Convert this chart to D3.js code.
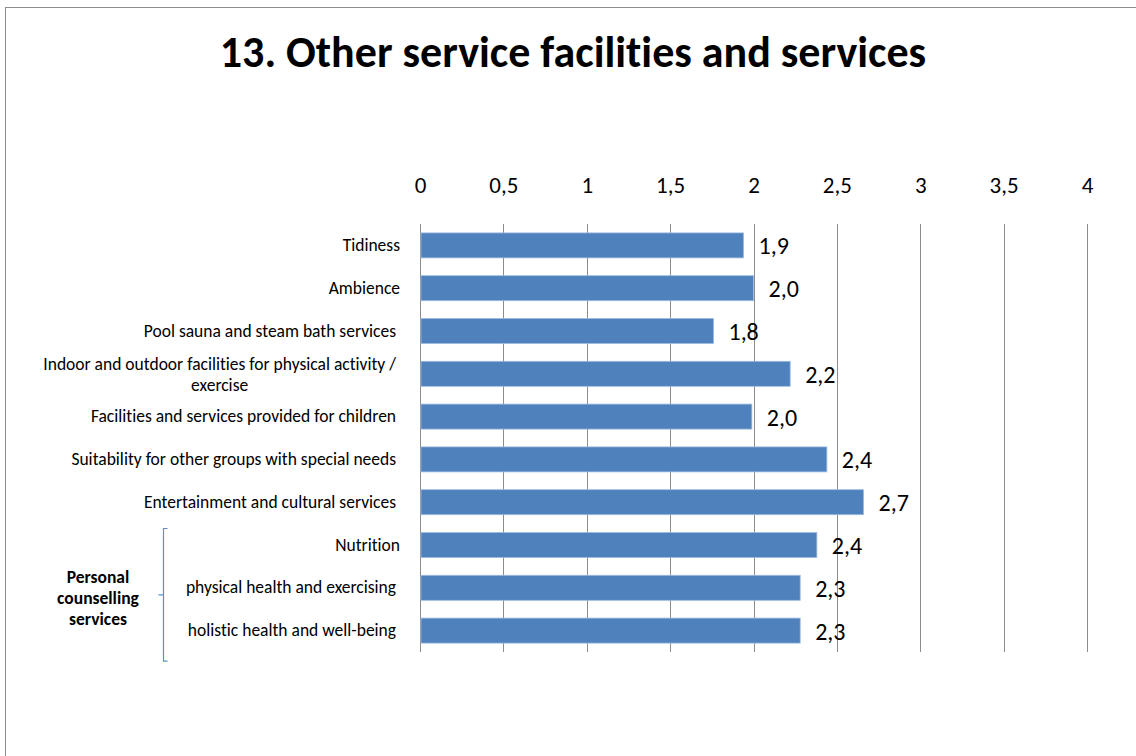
<!DOCTYPE html>
<html>
<head>
<meta charset="utf-8">
<script src="https://cdn.jsdelivr.net/npm/d3@7"></script>
<style>
  body { margin: 0; background: #fff; }
  text { font-family: Carlito, Calibri, Lato, sans-serif; white-space: pre; font-variant-ligatures: none; }
</style>
</head>
<body>
<svg id="chart" width="1136" height="756"></svg>
<script>
var titleText = '13. Other service facilities and services';
var categories = [
  'Tidiness',
  'Ambience',
  'Pool sauna and steam bath services ',
  'Indoor and outdoor facilities for physical activity /\nexercise',
  'Facilities and services provided for children ',
  'Suitability for other groups with special needs ',
  'Entertainment and cultural services ',
  'Nutrition',
  'physical health and exercising ',
  'holistic health and well-being '
];
var values = [1.94, 2.00, 1.76, 2.22, 1.99, 2.44, 2.66, 2.38, 2.28, 2.28];
var tickValues = [0, 0.5, 1, 1.5, 2, 2.5, 3, 3.5, 4];
var groupLabel = ['Personal', 'counselling', 'services'];
var groupMembers = ['Nutrition', 'physical health and exercising ', 'holistic health and well-being '];

var svg = d3.select('#chart');
var comma = d3.formatLocale({decimal: ',', thousands: ' ', grouping: [3], currency: ['', '']});
var fmtTick = comma.format('');
var fmtVal = comma.format('.1f');

// outer chart border
svg.append('rect')
  .attr('x', 5.5).attr('y', 7.5)
  .attr('width', 1200).attr('height', 800)
  .attr('fill', 'none').attr('stroke', '#8c8c8c').attr('stroke-width', 1);

svg.append('text')
  .attr('x', 573).attr('y', 67)
  .attr('text-anchor', 'middle')
  .style('font-size', '44px').style('font-weight', 'bold')
  .text(titleText);

var x = d3.scaleLinear().domain([0, 4]).range([420, 1087]);
var y = d3.scaleBand().domain(categories).range([224, 652])
  .paddingInner(0.416).paddingOuter(0.208);

// gridlines
svg.append('g').selectAll('line').data(tickValues).join('line')
  .attr('x1', d => Math.round(x(d)) + 0.5).attr('x2', d => Math.round(x(d)) + 0.5)
  .attr('y1', 224).attr('y2', 652)
  .attr('stroke', '#8c8c8c').attr('stroke-width', 1);

// top axis labels
var xAxis = d3.axisTop(x).tickValues(tickValues).tickFormat(fmtTick).tickSize(0).tickPadding(0);
var gx = svg.append('g').attr('transform', 'translate(0,193)').call(xAxis);
gx.select('.domain').remove();
gx.selectAll('text')
  .attr('dy', 0)
  .style('font-family', 'Carlito, Calibri, Lato, sans-serif')
  .style('font-size', '23px').attr('fill', '#000');

// bars
svg.append('g').selectAll('rect').data(values).join('rect')
  .attr('x', x(0) + 1)
  .attr('y', (d, i) => y(categories[i]))
  .attr('width', d => x(d) - x(0) - 1)
  .attr('height', y.bandwidth())
  .attr('fill', '#4f81bd')
  .attr('stroke', '#9dbbe0').attr('stroke-width', 0.8);

// value labels
svg.append('g').selectAll('text').data(values).join('text')
  .attr('x', d => x(d) + 15)
  .attr('y', (d, i) => y(categories[i]) + y.bandwidth() / 2 + 9)
  .style('font-size', '24px')
  .text(d => fmtVal(d));

// category labels
var cat = svg.append('g').selectAll('text').data(categories).join('text')
  .style('font-size', '17.5px')
  .attr('fill', '#000');
cat.each(function(d) {
  var lines = d.split('\n');
  var t = d3.select(this);
  var cy = y(d) + y.bandwidth() / 2;
  if (lines.length === 1) {
    t.attr('x', 400).attr('y', cy + 5.5).attr('text-anchor', 'end').text(d);
  } else {
    // wrapped label: lines centred on each other, block right-aligned
    t.attr('text-anchor', 'middle');
    var tmp = t.append('tspan').text(lines[0]);
    var w = tmp.node().getComputedTextLength();
    tmp.remove();
    var cx = 396 - w / 2;
    lines.forEach(function(l, k) {
      t.append('tspan').attr('x', cx)
        .attr('y', cy + 6.5 + (k - (lines.length - 1) / 2) * 21)
        .text(l);
    });
  }
});

// bracket for grouped categories
var by0 = y(groupMembers[0]) - 4;
var by1 = y(groupMembers[groupMembers.length - 1]) + y.bandwidth() + 18;
var bx = 163.5;
var bmid = (by0 + by1) / 2;
svg.append('path')
  .attr('d', `M${bx + 4},${by0} H${bx} V${by1} H${bx + 4} M${bx},${bmid} H${bx - 5}`)
  .attr('fill', 'none').attr('stroke', '#5b8fd0').attr('stroke-width', 1.2);

svg.append('g').selectAll('text').data(groupLabel).join('text')
  .attr('x', 98)
  .attr('y', (d, i) => bmid - 12 + i * 21)
  .attr('text-anchor', 'middle')
  .style('font-size', '17.5px').style('font-weight', 'bold')
  .text(d => d);
</script>
</body>
</html>
